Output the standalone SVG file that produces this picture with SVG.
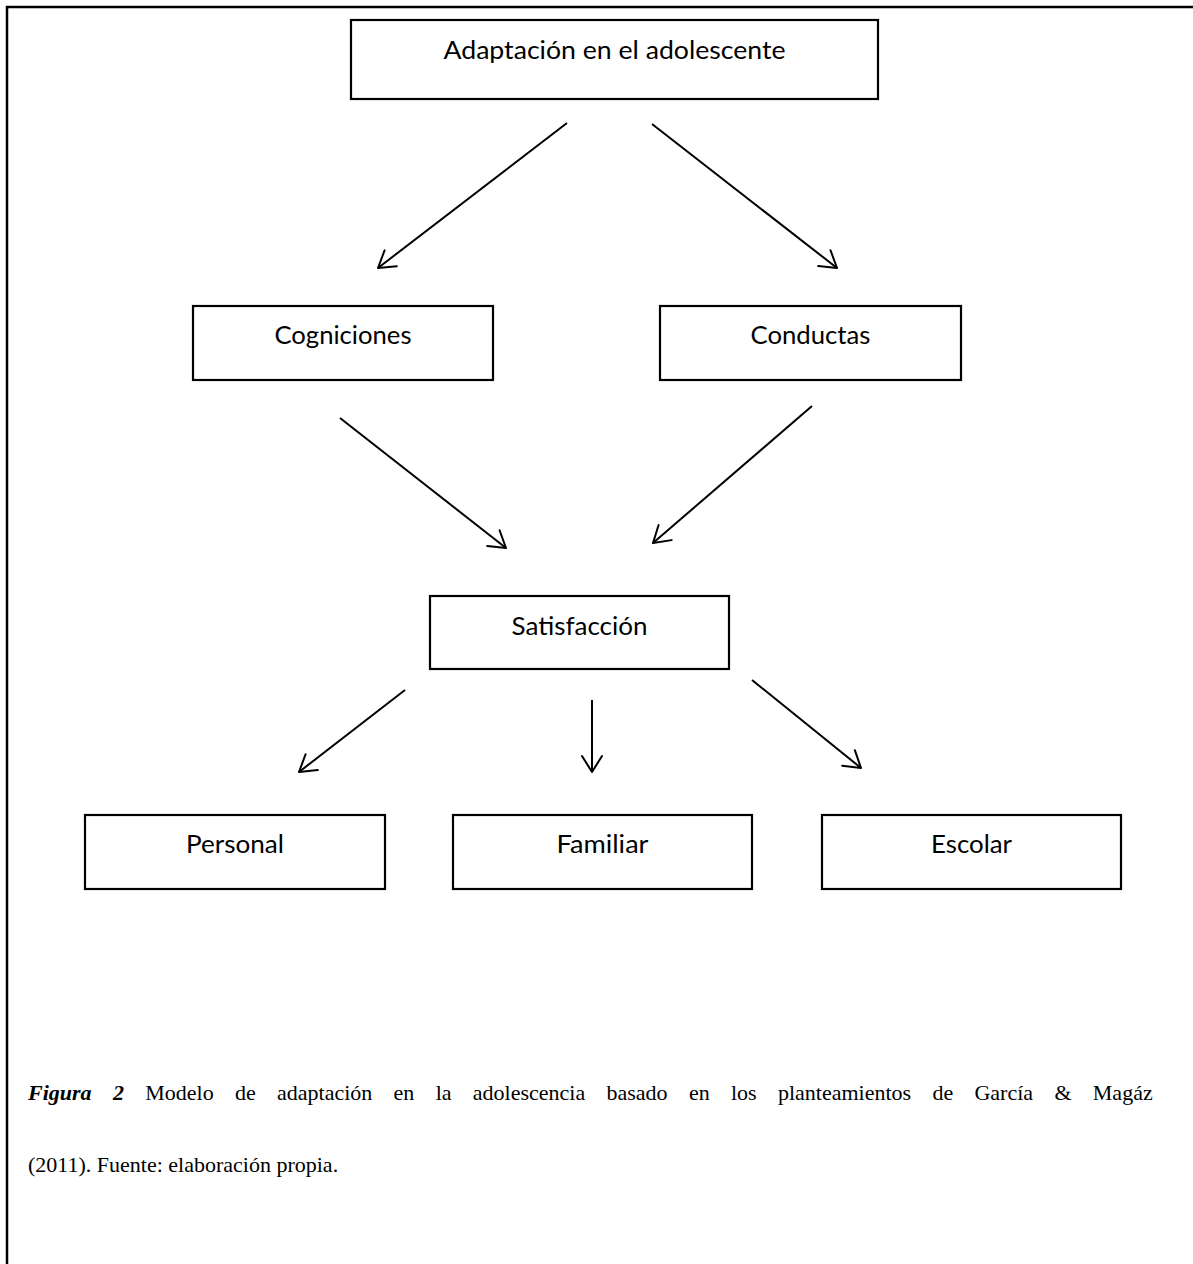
<svg xmlns="http://www.w3.org/2000/svg" width="1193" height="1264" viewBox="0 0 1193 1264">
<style>
.box{fill:#fff;stroke:#000;stroke-width:2.2}
.lbl{font-family:Lato,"Open Sans","Liberation Sans",sans-serif;font-size:25px;fill:#000;text-anchor:middle}
.cn{stroke:#000;stroke-width:2;fill:none;marker-end:url(#ah)}
.cap{font-family:"Liberation Serif","Times New Roman",serif;font-size:22px;fill:#000}
</style>
<defs>
<marker id="ah" markerUnits="userSpaceOnUse" markerWidth="30" markerHeight="30" viewBox="-20 -15 30 30" refX="0" refY="0" orient="auto" overflow="visible">
<path d="M-16,-10 L0,0 L-16,10" fill="none" stroke="#000" stroke-width="2" stroke-linecap="round" stroke-linejoin="round"/>
</marker>
</defs>
<rect width="1193" height="1264" fill="#fff"/>
<g id="frame">
<path d="M7,1264 L7,7 L1193,7" fill="none" stroke="#000" stroke-width="2.5"/>
</g>
<g id="n-adaptacion">
<rect class="box" x="351" y="20" width="527" height="79"/>
<text class="lbl" x="614.5" y="59" textLength="342" lengthAdjust="spacingAndGlyphs">Adaptación en el adolescente</text>
</g>
<g id="n-cogniciones">
<rect class="box" x="193" y="306" width="300" height="74"/>
<text class="lbl" x="343" y="344" textLength="137" lengthAdjust="spacingAndGlyphs">Cogniciones</text>
</g>
<g id="n-conductas">
<rect class="box" x="660" y="306" width="301" height="74"/>
<text class="lbl" x="810.5" y="344" textLength="120" lengthAdjust="spacingAndGlyphs">Conductas</text>
</g>
<g id="n-satisfaccion">
<rect class="box" x="430" y="596" width="299" height="73"/>
<text class="lbl" x="579.5" y="635" textLength="136" lengthAdjust="spacingAndGlyphs">Satisfacción</text>
</g>
<g id="n-personal">
<rect class="box" x="85" y="815" width="300" height="74"/>
<text class="lbl" x="235" y="853" textLength="98" lengthAdjust="spacingAndGlyphs">Personal</text>
</g>
<g id="n-familiar">
<rect class="box" x="453" y="815" width="299" height="74"/>
<text class="lbl" x="602.5" y="853" textLength="92" lengthAdjust="spacingAndGlyphs">Familiar</text>
</g>
<g id="n-escolar">
<rect class="box" x="822" y="815" width="299" height="74"/>
<text class="lbl" x="971.5" y="853" textLength="81" lengthAdjust="spacingAndGlyphs">Escolar</text>
</g>
<g id="connectors">
<line class="cn" x1="567" y1="123" x2="378" y2="268"/>
<line class="cn" x1="652" y1="124" x2="837" y2="268"/>
<line class="cn" x1="340" y1="418" x2="506" y2="548"/>
<line class="cn" x1="812" y1="406" x2="653" y2="543"/>
<line class="cn" x1="405" y1="690" x2="299" y2="772"/>
<line class="cn" x1="592" y1="700" x2="592" y2="772"/>
<line class="cn" x1="752" y1="680" x2="861" y2="768"/>
</g>
<g id="caption">
<text class="cap" x="28" y="1100" style="word-spacing:15.8px"><tspan font-weight="bold" font-style="italic">Figura 2</tspan> Modelo de adaptación en la adolescencia basado en los planteamientos de García &amp; Magáz</text>
<text class="cap" x="28" y="1172">(2011). Fuente: elaboración propia.</text>
</g>
</svg>
